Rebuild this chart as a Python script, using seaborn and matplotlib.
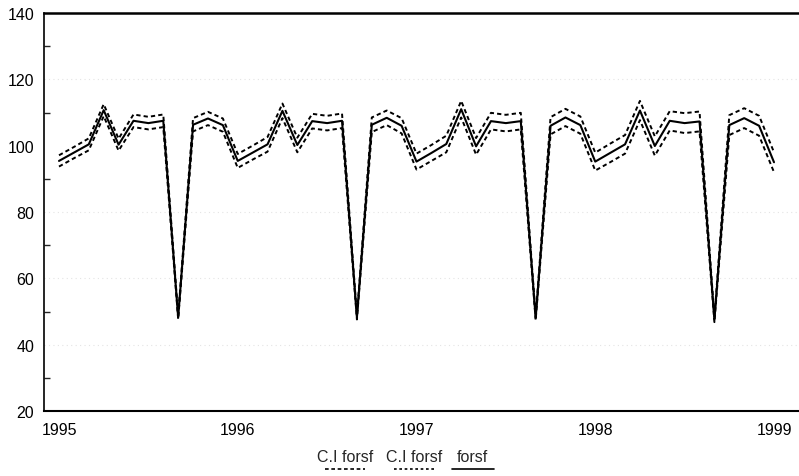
import numpy as np
import pandas as pd
import matplotlib
matplotlib.use("Agg")
import matplotlib.pyplot as plt
from matplotlib.lines import Line2D
import seaborn as sns

# ---- data (monthly, Jan 1995 .. Jan 1999) ----
start_year = 1995
n_months = 49
forsf = [95.4, 97.9, 100.4, 110.7, 100.3, 107.5, 106.8, 107.5, 48.2, 106.3, 108.2, 106.2,
         95.4, 97.9, 100.4, 110.5, 100.2, 107.4, 106.8, 107.5, 48.2, 106.3, 108.4, 106.0,
         95.2, 97.8, 100.5, 111.0, 99.8, 107.4, 106.8, 107.4, 48.0, 106.0, 108.5, 106.2,
         95.2, 97.8, 100.4, 110.6, 99.9, 107.5, 106.8, 107.3, 47.5, 106.2, 108.3, 106.0,
         95.0]
ci_upper = [97.1, 99.6, 102.2, 112.5, 102.1, 109.4, 108.7, 109.4, 48.7, 108.3, 110.2, 108.2,
            97.5, 100.0, 102.6, 112.7, 102.4, 109.6, 109.0, 109.7, 48.8, 108.5, 110.6, 108.3,
            97.6, 100.2, 103.0, 113.5, 102.3, 109.9, 109.3, 109.9, 48.6, 108.6, 111.1, 108.8,
            97.9, 100.6, 103.2, 113.5, 102.8, 110.4, 109.8, 110.3, 48.2, 109.2, 111.3, 109.0,
            98.0]
ci_lower = [93.7, 96.2, 98.6, 108.9, 98.5, 105.6, 104.9, 105.6, 47.7, 104.3, 106.2, 104.2,
            93.3, 95.8, 98.2, 108.3, 98.0, 105.2, 104.6, 105.3, 47.6, 104.1, 106.2, 103.7,
            92.8, 95.4, 98.0, 108.5, 97.3, 104.9, 104.3, 104.9, 47.4, 103.4, 105.9, 103.6,
            92.5, 95.0, 97.6, 107.7, 97.0, 104.6, 103.8, 104.3, 46.8, 103.2, 105.3, 103.0,
            92.0]
year_ticks = [1995, 1996, 1997, 1998, 1999]
y_ticks = [20, 40, 60, 80, 100, 120, 140]
legend_labels = ["C.I forsf", "C.I forsf", "forsf"]

t = start_year + np.arange(n_months) / 12.0
df = pd.DataFrame({"t": t, "forsf": forsf, "upper": ci_upper, "lower": ci_lower})

sns.set_style("white")
plt.rcParams["font.family"] = ["Liberation Sans", "DejaVu Sans"]

fig = plt.figure(figsize=(7.99, 4.77), dpi=100)
ax = fig.add_axes([44 / 799, 1 - 412 / 477, 1 - 44 / 799, (412 - 14) / 477])

dash = (2.2, 1.6)
sns.lineplot(data=df, x="t", y="upper", ax=ax, color="black", lw=1.4, dashes=False)
sns.lineplot(data=df, x="t", y="lower", ax=ax, color="black", lw=1.4, dashes=False)
sns.lineplot(data=df, x="t", y="forsf", ax=ax, color="black", lw=1.5)
ax.lines[0].set_dashes(dash)
ax.lines[1].set_dashes(dash)

# x range: 1995 at px 59, 1999 at px 774
ppy = (774 - 59) / 4.0
ax.set_xlim(1995 - (59 - 44) / ppy, 1995 + (799 - 59) / ppy)
ax.set_ylim(20, 140)
ax.set_xlabel("")
ax.set_ylabel("")

ax.set_xticks(year_ticks)
ax.set_xticklabels([str(y) for y in year_ticks])
ax.set_yticks(y_ticks)
ax.set_yticklabels([str(v) for v in y_ticks])
ax.set_yticks(np.arange(30, 140, 20), minor=True)

ax.tick_params(axis="both", which="major", direction="in", length=7, width=1.0,
               colors="black", labelsize=11.5)
ax.tick_params(axis="x", which="major", pad=8, top=False)
ax.tick_params(axis="y", which="major", pad=7, right=False)
ax.tick_params(axis="y", which="minor", direction="in", length=4, width=1.0, left=True)

for s in ["left", "bottom", "top"]:
    ax.spines[s].set_visible(True)
    ax.spines[s].set_color("black")
ax.spines["left"].set_linewidth(1.2)
ax.spines["bottom"].set_linewidth(1.5)
ax.spines["top"].set_linewidth(1.8)
ax.spines["right"].set_visible(False)

# faint gridlines (scan-like)
for v in [40, 60, 80, 120]:
    ax.axhline(v, color="#e4e4e4", lw=0.8, ls=(0, (1, 3)), zorder=0)

# custom legend: labels with line samples underneath
lx = [(315 + 375) / 2, (385 + 443) / 2, (452 + 493) / 2]
widths = [40, 40, 42]
styles = [(0, (2.2, 1.6)), (0, (1.6, 1.6)), "-"]
text_y = 1 - 458 / 477
line_y = 1 - 470 / 477
for x0, lab, w, st in zip(lx, legend_labels, widths, styles):
    fig.text(x0 / 799, text_y, lab, ha="center", va="center", fontsize=11.5)
    fig.add_artist(Line2D([(x0 - w / 2) / 799, (x0 + w / 2) / 799], [line_y, line_y],
                          color="black", lw=1.2, ls=st, transform=fig.transFigure))

fig.savefig("out.png", dpi=100)
